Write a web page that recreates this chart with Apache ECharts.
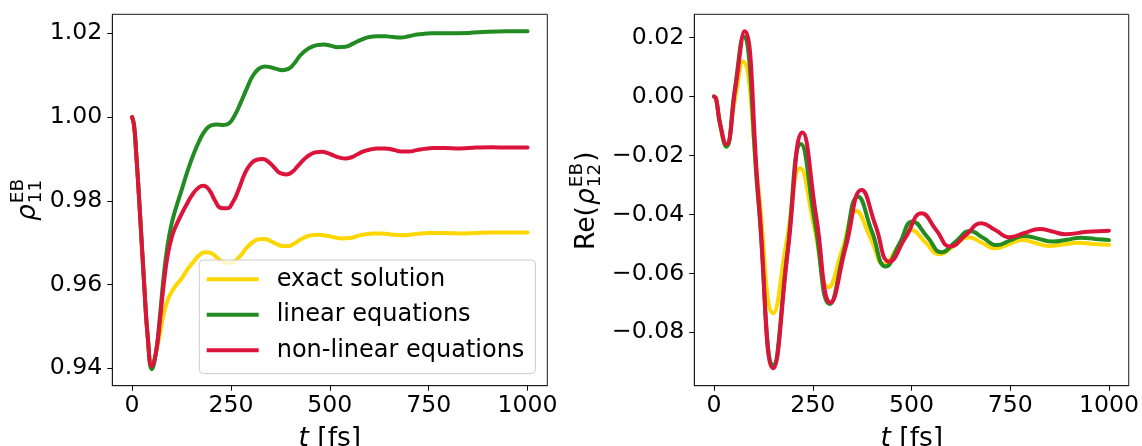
<!DOCTYPE html>
<html><head><meta charset="utf-8">
<script src="https://cdn.jsdelivr.net/npm/echarts@6/dist/echarts.min.js"></script>
<style>html,body{margin:0;padding:0;background:#fff}#c{width:1142px;height:446px}</style>
</head><body><div id="c"></div>
<script>
// ---------- ticks ----------
const xTicks = [0, 250, 500, 750, 1000];
const xTickLabels = ['0', '250', '500', '750', '1000'];
const leftYTicks = [0.94, 0.96, 0.98, 1.00, 1.02];
const leftYTickLabels = ['0.94', '0.96', '0.98', '1.00', '1.02'];
const rightYTicks = [-0.08, -0.06, -0.04, -0.02, 0.00, 0.02];
const rightYTickLabels = ['\u22120.08', '\u22120.06', '\u22120.04', '\u22120.02', '0.00', '0.02'];
const seriesNames = ['exact solution', 'linear equations', 'non-linear equations'];

// ---------- left panel: rho_11 ----------
const tLeftExact = [0,5,10,20,30,40,50,60,70,80,90,100,110,125,140,155,170,185,200,215,230,245,260,275,290,305,320,335,350,365,380,395,410,425,440,455,470,490,510,530,550,570,590,610,630,660,690,720,750,790,840,900,950,1000];
const rhoLeftExact = [1.000,0.998,0.992,0.977,0.961,0.947,0.9403,0.9435,0.948,0.953,0.9563,0.9582,0.9597,0.9614,0.9636,0.9654,0.9670,0.9677,0.9675,0.9664,0.9654,0.9651,0.9656,0.9670,0.9688,0.9701,0.9708,0.9709,0.9704,0.9697,0.9692,0.9692,0.9698,0.9707,0.9714,0.9718,0.9719,0.9717,0.9713,0.9710,0.9711,0.9716,0.9720,0.9722,0.9722,0.9719,0.9718,0.9721,0.9723,0.9723,0.9722,0.9724,0.9724,0.9724];

const tLeftLinear = [0,5,10,20,30,40,50,60,70,80,90,100,110,125,140,155,170,185,200,215,230,245,260,275,290,305,320,335,350,365,380,395,410,425,440,455,470,485,500,520,540,560,580,600,620,640,660,680,700,720,740,760,800,850,900,950,1000];
const rhoLeftLinear = [1.000,0.998,0.992,0.977,0.961,0.947,0.9398,0.9435,0.952,0.962,0.9695,0.9745,0.978,0.9825,0.9870,0.9910,0.9943,0.9968,0.9980,0.9982,0.9981,0.9985,1.0005,1.0035,1.0068,1.0098,1.0115,1.0121,1.0119,1.0115,1.0112,1.0115,1.0128,1.0147,1.0160,1.0168,1.0172,1.0173,1.0171,1.0167,1.0168,1.0176,1.0185,1.0191,1.0193,1.0193,1.0191,1.0190,1.0193,1.0197,1.0199,1.0200,1.0200,1.0201,1.0204,1.0205,1.0205];

const tLeftNonlinear = [0,5,10,20,30,40,50,60,70,80,90,100,110,125,140,155,170,180,195,210,225,240,255,270,285,300,315,330,345,360,375,390,405,420,435,450,465,480,495,510,525,540,555,570,585,600,620,640,660,680,700,720,740,760,790,830,870,910,950,1000];
const rhoLeftNonlinear = [1.000,0.998,0.992,0.977,0.961,0.947,0.9405,0.9435,0.951,0.960,0.967,0.9712,0.9738,0.9768,0.9795,0.9818,0.9833,0.9836,0.9826,0.9800,0.9783,0.9782,0.9797,0.9828,0.9865,0.9888,0.9898,0.9900,0.9893,0.9879,0.9866,0.9863,0.9869,0.9884,0.9899,0.9910,0.9916,0.9917,0.9914,0.9908,0.9903,0.9901,0.9904,0.9911,0.9918,0.9922,0.9925,0.9925,0.9922,0.9918,0.9918,0.9921,0.9924,0.9926,0.9926,0.9925,0.9927,0.9928,0.9927,0.9927];

// ---------- right panel: Re(rho_12) ----------
const tRightExact = [0,5,15,31,51,73,112,150,184,218,254,290,325,360,396,431,465,499,535,571,608,644,678,712,746,780,814,848,884,920,960,1000];
const reRightExact = [0,-0.0006,-0.0092,-0.0170,-0.0025,0.0119,-0.0308,-0.0735,-0.0489,-0.0243,-0.0445,-0.0647,-0.0518,-0.0388,-0.0479,-0.0569,-0.0511,-0.0453,-0.0494,-0.0535,-0.0506,-0.0477,-0.0496,-0.0515,-0.0501,-0.0487,-0.0497,-0.0507,-0.0502,-0.0496,-0.0500,-0.0503];

const tRightLinear = [0,5,15,31,52,74,112,150,185,220,256,293,329,365,400,435,469,503,540,576,612,648,682,716,750,784,820,857,893,929,965,1000];
const reRightLinear = [0,-0.0006,-0.0092,-0.0170,0.0019,0.0205,-0.0353,-0.0911,-0.0536,-0.0161,-0.0433,-0.0704,-0.0522,-0.0340,-0.0459,-0.0577,-0.0500,-0.0424,-0.0476,-0.0528,-0.0492,-0.0456,-0.0480,-0.0504,-0.0488,-0.0473,-0.0482,-0.0492,-0.0486,-0.0479,-0.0483,-0.0487];

const tRightNonlinear = [0,5,15,31,54,77,113,150,187,224,259,295,334,374,409,444,485,526,562,598,637,677,712,748,786,825,857,889,945,1000];
const reRightNonlinear = [0,-0.0006,-0.0090,-0.0162,0.0030,0.0222,-0.0350,-0.0922,-0.0522,-0.0122,-0.0410,-0.0699,-0.0508,-0.0317,-0.0438,-0.0560,-0.0478,-0.0396,-0.0452,-0.0509,-0.0470,-0.0430,-0.0453,-0.0477,-0.0463,-0.0449,-0.0458,-0.0467,-0.0459,-0.0455];

// ---------- styling ----------
const COLORS = ['#FFD700', '#228B22', '#DC143C'];
const FONT = 'DejaVu Sans';
const FS = 23.6;
const AX = '#000';

function pairs(ts, vs) { return ts.map((t, i) => [t, vs[i]]); }
function labelFor(ticks, labels) {
  return v => { for (let i = 0; i < ticks.length; i++) if (Math.abs(ticks[i] - v) < 1e-9) return labels[i]; return ''; };
}

const G = { top: 14.3, height: 371.4, width: 435 };
const grids = [
  { left: 112.3, top: G.top, width: G.width, height: G.height, show: true, borderColor: '#1a1a1a', borderWidth: 1, backgroundColor: 'transparent', containLabel: false },
  { left: 694.3, top: G.top, width: G.width, height: G.height, show: true, borderColor: '#1a1a1a', borderWidth: 1, backgroundColor: 'transparent', containLabel: false }
];

function xAxis(gi) {
  return {
    type: 'value', gridIndex: gi, min: -50, max: 1050,
    splitLine: { show: false },
    axisLine: { show: true, onZero: false, lineStyle: { color: '#1a1a1a', width: 1 } },
    axisTick: { show: true, customValues: xTicks, length: 5, inside: false, lineStyle: { color: AX, width: 1 } },
    axisLabel: { show: true, customValues: xTicks, formatter: labelFor(xTicks, xTickLabels), fontSize: FS, fontFamily: FONT, color: AX, margin: 8 }
  };
}
function yAxis(gi, min, max, ticks, labels) {
  return {
    type: 'value', gridIndex: gi, min: min, max: max,
    splitLine: { show: false },
    axisLine: { show: true, onZero: false, lineStyle: { color: '#1a1a1a', width: 1 } },
    axisTick: { show: true, customValues: ticks, length: 5, inside: false, lineStyle: { color: AX, width: 1 } },
    axisLabel: { show: true, customValues: ticks, formatter: labelFor(ticks, labels), fontSize: FS, fontFamily: FONT, color: AX, margin: 10 }
  };
}

function line(name, idx, gi, data) {
  return {
    type: 'line', name: name, xAxisIndex: gi, yAxisIndex: gi, data: data,
    smooth: 0.5, showSymbol: false, symbol: 'none', clip: true,
    lineStyle: { color: COLORS[idx], width: 4, cap: 'round', join: 'round' },
    itemStyle: { color: COLORS[idx] },
    z: 2 + idx, silent: true
  };
}

// ---------- axis titles ----------
const K = 0.346; // canvas 'middle' offset ratio for DejaVu Sans
const LF = 26.5, SF = 18.5;
const SUB = 5.5, SUP = -12.5;
function txt(x, baseline, s, size, italic) {
  return { type: 'text', x: x, y: baseline - K * size,
    style: { text: s, fontSize: size, fontFamily: FONT, fontStyle: italic ? 'italic' : 'normal', fill: AX, align: 'left', verticalAlign: 'middle' } };
}
function xTitle(cx) {
  return { type: 'text', x: cx, y: 448 - K * LF,
    style: { text: '{it|t} [fs]', rich: { it: { fontStyle: 'italic', fontSize: LF, fontFamily: FONT } }, fontSize: LF, fontFamily: FONT, fill: AX, align: 'center', verticalAlign: 'middle' } };
}
const rhoW = 0.634 * LF;
const scriptW = 1.32 * SF;
const leftYTitle = {
  type: 'group', x: 37.3, y: 221, rotation: Math.PI / 2,
  children: [
    txt(0, 0, '\u03C1', LF, true),
    txt(rhoW + 1, SUB, '11', SF, false),
    txt(rhoW + 1, SUP, 'EB', SF, false)
  ]
};
const reW = (0.695 + 0.615 + 0.390) * LF;
const rightYTitle = {
  type: 'group', x: 596, y: 250, rotation: Math.PI / 2,
  children: [
    txt(0, 0, 'Re(', LF, false),
    txt(reW, 0, '\u03C1', LF, true),
    txt(reW + rhoW + 1, SUB, '12', SF, false),
    txt(reW + rhoW + 1, SUP, 'EB', SF, false),
    txt(reW + rhoW + 1 + scriptW + 1, 0, ')', LF, false)
  ]
};

const option = {
  animation: false,
  backgroundColor: '#ffffff',
  grid: grids,
  xAxis: [xAxis(0), xAxis(1)],
  yAxis: [
    yAxis(0, 0.93584, 1.02454, leftYTicks, leftYTickLabels),
    yAxis(1, -0.09812, 0.02794, rightYTicks, rightYTickLabels)
  ],
  legend: {
    data: seriesNames, orient: 'vertical', left: 199.3, top: 260,
    itemWidth: 52, itemHeight: 4, itemGap: 11.5, icon: 'rect',
    padding: [7.3, 11, 11.3, 7.4],
    backgroundColor: 'rgba(255,255,255,0.8)', borderColor: '#cccccc', borderWidth: 1, borderRadius: 4,
    selectedMode: false,
    textStyle: { fontSize: 24, fontFamily: FONT, color: AX, lineHeight: 24, padding: [0, 0, 0, 13] }
  },
  series: [
    line(seriesNames[0], 0, 0, pairs(tLeftExact, rhoLeftExact)),
    line(seriesNames[1], 1, 0, pairs(tLeftLinear, rhoLeftLinear)),
    line(seriesNames[2], 2, 0, pairs(tLeftNonlinear, rhoLeftNonlinear)),
    line(seriesNames[0], 0, 1, pairs(tRightExact, reRightExact)),
    line(seriesNames[1], 1, 1, pairs(tRightLinear, reRightLinear)),
    line(seriesNames[2], 2, 1, pairs(tRightNonlinear, reRightNonlinear))
  ],
  graphic: [xTitle(329.8), xTitle(911.8), leftYTitle, rightYTitle]
};

const chart = echarts.init(document.getElementById('c'), null, { renderer: 'canvas' });
chart.setOption(option);
</script>
</body></html>
